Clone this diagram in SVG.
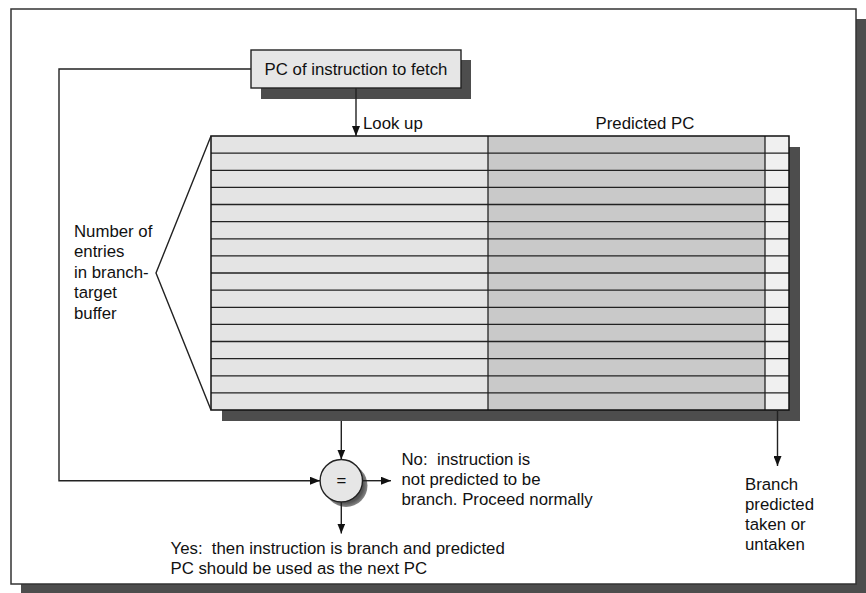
<svg xmlns="http://www.w3.org/2000/svg" width="866" height="593" viewBox="0 0 866 593">
<style>
  text { font-family: "Liberation Sans", Arial, sans-serif; font-size: 16.8px; fill: #111; }
  .shadow { fill: #4d4d4d; stroke: none; }
  .ln { stroke: #222; stroke-width: 1.4; fill: none; }
  .row { stroke: #222; stroke-width: 1.3; }
</style>
<defs>
  <marker id="ah" viewBox="0 0 10 8" refX="10" refY="4" markerWidth="10" markerHeight="8" markerUnits="userSpaceOnUse" orient="auto">
    <path d="M0,0 L10,4 L0,8 Z" fill="#111"/>
  </marker>
  <radialGradient id="cs" cx="0.5" cy="0.5" r="0.5">
    <stop offset="0.8" stop-color="#555"/>
    <stop offset="1" stop-color="#888"/>
  </radialGradient>
</defs>

<g id="frame">
  <rect x="21" y="19" width="845" height="575" class="shadow"/>
  <rect x="11" y="9" width="845" height="575" fill="#fff" stroke="#333" stroke-width="1.5"/>
</g>

<g id="pc-box">
  <rect x="261" y="60" width="210" height="39" class="shadow"/>
  <rect x="251" y="50" width="210" height="38" fill="#e6e6e6" stroke="#222" stroke-width="1.4"/>
  <text x="356" y="75" text-anchor="middle">PC of instruction to fetch</text>
</g>

<g id="btb">
  <rect x="222" y="147" width="578" height="274" class="shadow"/>
  <rect x="211" y="136" width="277" height="274" fill="#e4e4e4"/>
  <rect x="488" y="136" width="277" height="274" fill="#c9c9c9"/>
  <rect x="765" y="136" width="24" height="274" fill="#f0f0f0"/>
  <g class="row">
    <line x1="211" y1="153.1" x2="789" y2="153.1"/>
    <line x1="211" y1="170.3" x2="789" y2="170.3"/>
    <line x1="211" y1="187.4" x2="789" y2="187.4"/>
    <line x1="211" y1="204.5" x2="789" y2="204.5"/>
    <line x1="211" y1="221.6" x2="789" y2="221.6"/>
    <line x1="211" y1="238.8" x2="789" y2="238.8"/>
    <line x1="211" y1="255.9" x2="789" y2="255.9"/>
    <line x1="211" y1="273" x2="789" y2="273"/>
    <line x1="211" y1="290.1" x2="789" y2="290.1"/>
    <line x1="211" y1="307.3" x2="789" y2="307.3"/>
    <line x1="211" y1="324.4" x2="789" y2="324.4"/>
    <line x1="211" y1="341.5" x2="789" y2="341.5"/>
    <line x1="211" y1="358.6" x2="789" y2="358.6"/>
    <line x1="211" y1="375.8" x2="789" y2="375.8"/>
    <line x1="211" y1="392.9" x2="789" y2="392.9"/>
    <line x1="488" y1="136" x2="488" y2="410"/>
    <line x1="765" y1="136" x2="765" y2="410"/>
  </g>
  <rect x="211" y="136" width="578" height="274" fill="none" stroke="#111" stroke-width="1.5"/>
  <text x="363" y="129">Look up</text>
  <text x="645" y="129" text-anchor="middle">Predicted PC</text>
</g>

<g id="bracket">
  <path d="M211,136 L156,273 L211,410" class="ln"/>
  <text x="74" y="236.5">Number of</text>
  <text x="74" y="257">entries</text>
  <text x="74" y="277.5">in branch-</text>
  <text x="74" y="298">target</text>
  <text x="74" y="318.5">buffer</text>
</g>

<g id="compare">
  <circle cx="346" cy="485.5" r="21.5" fill="url(#cs)"/>
  <circle cx="341.3" cy="480.7" r="21.2" fill="#e6e6e6" stroke="#222" stroke-width="1.4"/>
  <text x="341.3" y="486" text-anchor="middle" font-size="14">=</text>
</g>

<g id="connectors">
  <path d="M251,69 L59,69 L59,480.7 L320,480.7" class="ln" marker-end="url(#ah)"/>
  <line x1="356" y1="88" x2="356" y2="136" class="ln" marker-end="url(#ah)"/>
  <line x1="341.3" y1="421" x2="341.3" y2="459.5" class="ln" marker-end="url(#ah)"/>
  <line x1="362.5" y1="480.7" x2="391" y2="480.7" class="ln" marker-end="url(#ah)"/>
  <line x1="341.3" y1="502" x2="341.3" y2="533.5" class="ln" marker-end="url(#ah)"/>
  <line x1="777.5" y1="410" x2="777.5" y2="466" class="ln" marker-end="url(#ah)"/>
</g>

<g id="labels">
  <text x="401.5" y="465" xml:space="preserve">No:  instruction is</text>
  <text x="401.5" y="485">not predicted to be</text>
  <text x="401.5" y="505">branch. Proceed normally</text>
  <text x="170.5" y="554" xml:space="preserve">Yes:  then instruction is branch and predicted</text>
  <text x="170.5" y="574">PC should be used as the next PC</text>
  <text x="745" y="489.5">Branch</text>
  <text x="745" y="509.5">predicted</text>
  <text x="745" y="530">taken or</text>
  <text x="745" y="550">untaken</text>
</g>
</svg>
